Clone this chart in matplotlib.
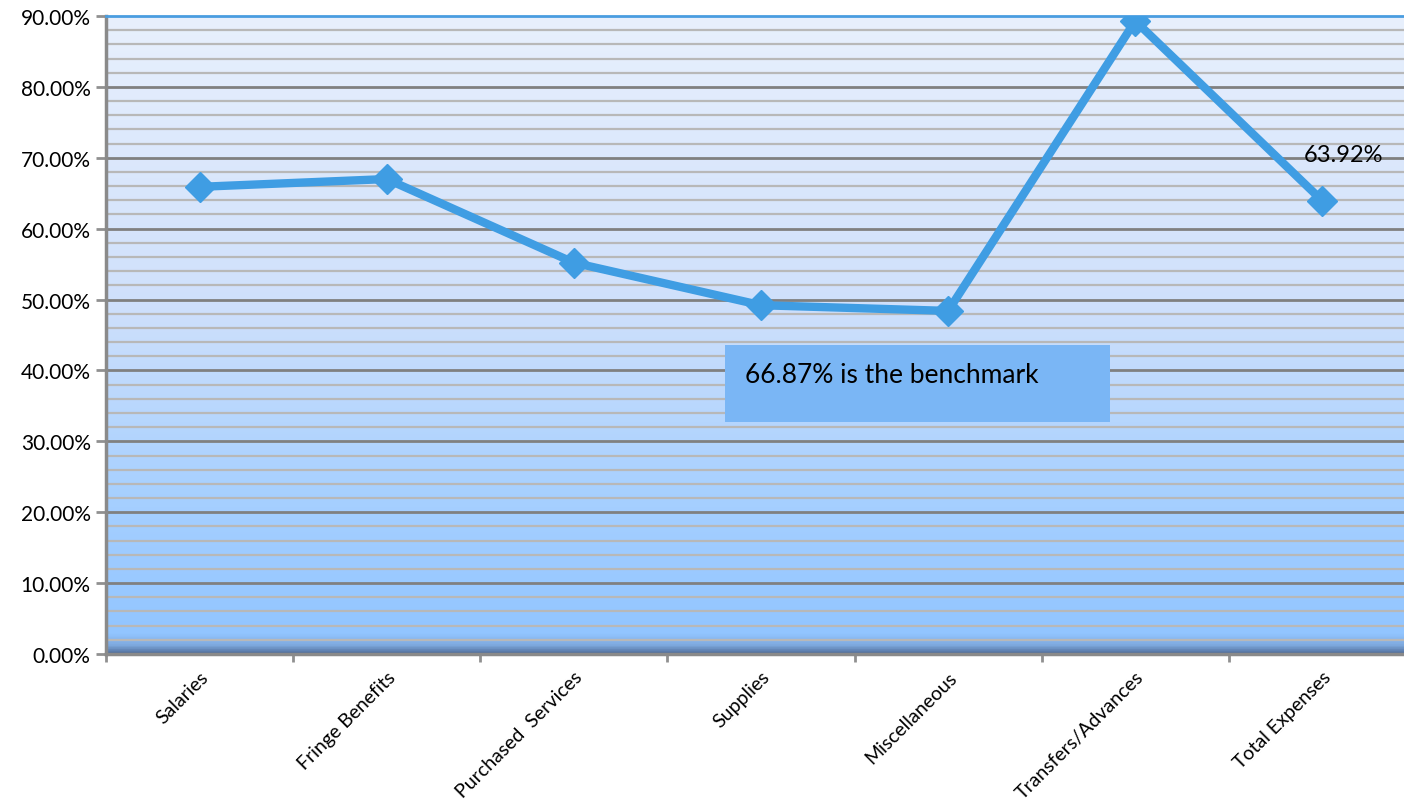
import matplotlib.pyplot as plt
import numpy as np
from matplotlib.colors import LinearSegmentedColormap
from matplotlib.patches import Rectangle

# Данные
categories = ['Salaries', 'Fringe Benefits', 'Purchased  Services', 'Supplies',
              'Miscellaneous', 'Transfers/Advances', 'Total Expenses']
percent = [65.9, 67.0, 55.2, 49.2, 48.4, 89.3, 63.92]
benchmark_text = '66.87% is the benchmark'

plt.rcParams['font.family'] = ['Lato', 'DejaVu Sans']

fig = plt.figure(figsize=(14.04, 8.04), dpi=100)
ax = fig.add_axes([106 / 1404, 1 - 655 / 804, 1310 / 1404, 638 / 804])

x = np.arange(len(categories))
ax.set_xlim(-0.5, len(categories) - 0.5)
ax.set_ylim(0, 90)

# Градиентный фон
grad = LinearSegmentedColormap.from_list('bg', [
    (0.0, '#54729f'), (0.012, '#7ea9de'), (0.03, '#92c5ff'),
    (0.25, '#a7d0ff'), (0.55, '#cfe0fb'), (1.0, '#e8f0fd')])
ax.imshow(np.linspace(0, 1, 256).reshape(-1, 1), cmap=grad, aspect='auto',
          extent=(-0.5, len(categories) - 0.5, 0, 90), origin='lower', zorder=0)

# Сетка
for v in np.arange(2, 90, 2):
    major = v % 10 == 0
    ax.axhline(v, color='#808080' if major else '#b8b8b8',
               linewidth=2.0 if major else 1.6, zorder=1)

ax.plot(x, percent, color='#3f9de3', linewidth=6, marker='D',
        markersize=15, zorder=3)

ax.text(x[-1] + 0.11, percent[-1] + 6.6, f'{percent[-1]:.2f}%', fontsize=17,
        ha='center', va='center', zorder=4)

ax.add_patch(Rectangle((2.807, 32.7), 2.056, 10.9, facecolor='#7ab6f5',
                       edgecolor='none', zorder=4))
ax.text(2.915, 39.4, benchmark_text, fontsize=19, va='center', zorder=5)

ax.set_yticks(np.arange(0, 91, 10))
ax.set_yticklabels([f'{v:.2f}%' for v in np.arange(0, 91, 10)], fontsize=15)
ax.set_xticks(x)
ax.set_xticklabels(categories, rotation=45, ha='right', rotation_mode='anchor',
                   fontsize=14)
ax.set_xticks(np.arange(-0.5, len(categories) - 0.5, 1), minor=True)
ax.tick_params(axis='x', which='major', length=0, pad=10)
ax.tick_params(axis='x', which='minor', length=6, color='#909090', width=2)
ax.tick_params(axis='y', length=7, color='#909090', width=2, pad=4)

for s in ['left', 'bottom']:
    ax.spines[s].set_color('#8a8a8a')
    ax.spines[s].set_linewidth(2.5)
ax.spines['top'].set_color('#4a9de0')
ax.spines['top'].set_linewidth(2)
ax.spines['right'].set_visible(False)

fig.savefig('out.png', dpi=100)
